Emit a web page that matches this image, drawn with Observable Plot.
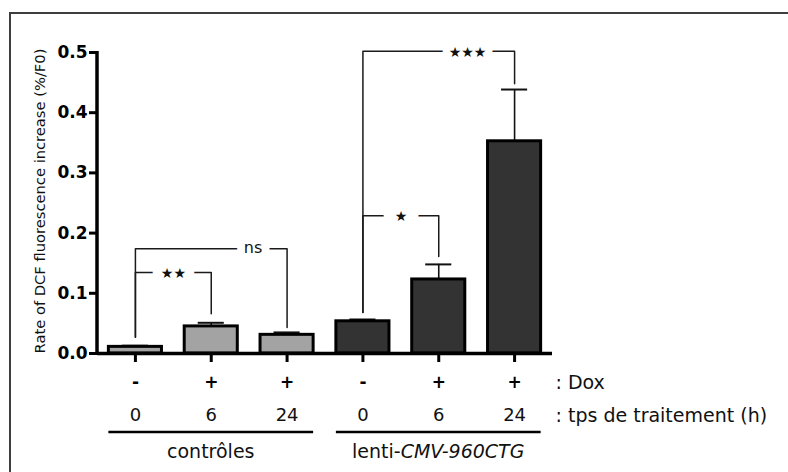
<!DOCTYPE html>
<html>
<head>
<meta charset="utf-8">
<script src="https://cdn.jsdelivr.net/npm/d3@7"></script>
<script src="https://cdn.jsdelivr.net/npm/@observablehq/plot@0.6"></script>
<style>
  html, body { margin: 0; padding: 0; background: #fff; }
  #wrap { position: relative; width: 788px; height: 472px; overflow: hidden; background: #fff; }
  #border { position: absolute; left: 9px; top: 12px; width: 820px; height: 500px; border: 2px solid #3e3e3e; box-sizing: border-box; }
  #chart { position: absolute; left: 0; top: 0; }
  #chart svg { font-family: "DejaVu Sans", sans-serif; }
  #chart g[aria-label="y-axis tick label"] text { font-size: 17px; font-weight: bold; fill: #000; }
</style>
</head>
<body>
<div id="wrap"><div id="border"></div><div id="chart"></div></div>
<script>
// ---- data ----
const categories = ["c0", "c6", "c24", "l0", "l6", "l24"];
const doxLabels = ["-", "+", "+", "-", "+", "+"];
const hourLabels = ["0", "6", "24", "0", "6", "24"];
const groupOf = ["contrôles", "contrôles", "contrôles", "lenti", "lenti", "lenti"];
const means = [0.011, 0.045, 0.031, 0.0535, 0.123, 0.3525];
const sems = [0.002, 0.006, 0.004, 0.003, 0.025, 0.086];
const yTicks = [0, 0.1, 0.2, 0.3, 0.4, 0.5];
const groupNames = ["contrôles", "lenti"];
const groupFirst = ["c0", "l0"];
const groupLast = ["c24", "l24"];
// significance brackets: from / to categories, foot heights, bar height
const brLabels = ["**", "ns", "*", "***"];
const brFrom = ["c0", "c0", "l0", "l0"];
const brTo = ["c6", "c24", "l6", "l24"];
const brFootFrom = [0.027, 0.027, 0.068, 0.068];
const brFootTo = [0.066, 0.043, 0.161, 0.448];
const brTop = [0.1345, 0.174, 0.229, 0.502];

const bars = categories.map((c, i) => ({cat: c, mean: means[i], sem: sems[i], group: groupOf[i], dox: doxLabels[i], h: hourLabels[i]}));
const brPts = [];
brLabels.forEach((l, i) => {
  brPts.push({z: l, x: brFrom[i], y: brFootFrom[i]});
  brPts.push({z: l, x: brFrom[i], y: brTop[i]});
  brPts.push({z: l, x: brTo[i], y: brTop[i]});
  brPts.push({z: l, x: brTo[i], y: brFootTo[i]});
});
const brText = brLabels.map((l, i) => ({label: l, from: brFrom[i], to: brTo[i], y: brTop[i]}));
const starText = (s) => s.replace(/\*/g, "★");

const halo = {stroke: "white", paintOrder: "stroke", strokeLinejoin: "round", fill: "#111", lineAnchor: "middle"};

const chart = Plot.plot({
  width: 788,
  height: 472,
  marginLeft: 97,
  marginRight: 236,
  marginTop: 52,
  marginBottom: 119,
  x: {domain: categories, paddingInner: 0.3, paddingOuter: 0.15, round: false, axis: null},
  y: {domain: [0, 0.5], axis: null},
  style: {background: "transparent", overflow: "visible", fontFamily: "DejaVu Sans"},
  marks: [
    // error bars (upper only)
    Plot.ruleX(bars, {x: "cat", y1: "mean", y2: d => d.mean + d.sem, stroke: "#111", strokeWidth: 1.6}),
    Plot.tickY(bars, {x: "cat", y: d => d.mean + d.sem, stroke: "#111", strokeWidth: 2, insetLeft: 13.5, insetRight: 13.5}),
    // bars
    Plot.barY(bars, {x: "cat", y: "mean", fill: d => d.group === "contrôles" ? "#a3a3a3" : "#333333", stroke: "#000", strokeWidth: 3}),
    // brackets
    Plot.line(brPts, {x: "x", y: "y", z: "z", stroke: "#1a1a1a", strokeWidth: 1.5, curve: "linear"}),
    Plot.text(brText.filter(d => d.label === "**"), {x: "from", y: "y", text: d => starText(d.label), dx: 38, dy: 1, fontSize: 14, strokeWidth: 18, ...halo}),
    Plot.text(brText.filter(d => d.label === "ns"), {x: "to", y: "y", text: "label", dx: -34, dy: -1, fontSize: 16, strokeWidth: 16, ...halo}),
    Plot.text(brText.filter(d => d.label === "*"), {x: "from", y: "y", text: d => starText(d.label), dx: 38, dy: 1, fontSize: 14, strokeWidth: 24, ...halo}),
    Plot.text(brText.filter(d => d.label === "***"), {x: "to", y: "y", text: d => starText(d.label), dx: -47, dy: 1, fontSize: 14, strokeWidth: 14, ...halo}),
    // axes
    Plot.ruleY([0], {stroke: "#000", strokeWidth: 3.5}),
    Plot.axisX({tickSize: 9, strokeWidth: 3, stroke: "#000", tickFormat: () => "", label: null}),
    Plot.axisY({ticks: yTicks, tickFormat: d3.format(".1f"), tickSize: 8, tickPadding: 2, strokeWidth: 3, stroke: "#000", fill: "#000", fontSize: 17, fontWeight: "bold", label: null}),
    (index, scales, values, dims) => {
      const y = scales.y;
      return d3.create("svg:line")
        .attr("x1", dims.marginLeft).attr("x2", dims.marginLeft)
        .attr("y1", y(0) + 1.75).attr("y2", y(0.5) - 1)
        .attr("stroke", "#000").attr("stroke-width", 3.5).node();
    },
    // category rows
    Plot.text(bars, {x: "cat", text: "dox", frameAnchor: "bottom", dy: 29, lineAnchor: "middle", fontSize: 17, fontWeight: "bold", fill: "#000"}),
    Plot.text(bars, {x: "cat", text: "h", frameAnchor: "bottom", dy: 62, lineAnchor: "middle", fontSize: 18, fill: "#111"}),
    Plot.text([": Dox"], {frameAnchor: "bottom-right", textAnchor: "start", dx: 3, dy: 29, lineAnchor: "middle", fontSize: 19, fill: "#111"}),
    Plot.text([": tps de traitement (h)"], {frameAnchor: "bottom-right", textAnchor: "start", dx: 3, dy: 62, lineAnchor: "middle", fontSize: 19, fill: "#111"}),
    // y label
    Plot.text(["Rate of DCF fluorescence increase (%/F0)"], {frameAnchor: "left", textAnchor: "middle", rotate: -90, dx: -57, dy: -2, lineAnchor: "middle", fontSize: 14.7, fill: "#111"}),
    // group lines and labels
    (index, scales, values, dims) => {
      const x = scales.x, y = scales.y;
      const bw = x.bandwidth ? x.bandwidth() : 0;
      const g = d3.create("svg:g");
      const base = y(0);
      groupNames.forEach((name, i) => {
        const x1 = x(groupFirst[i]), x2 = x(groupLast[i]) + bw;
        g.append("line").attr("x1", x1).attr("x2", x2).attr("y1", base + 79).attr("y2", base + 79)
          .attr("stroke", "#000").attr("stroke-width", 2.5);
        const t = g.append("text").attr("x", (x1 + x2) / 2).attr("y", base + 99).attr("dy", "0.32em")
          .attr("text-anchor", "middle").attr("font-size", 19).attr("fill", "#111");
        if (name === "lenti") {
          t.append("tspan").text("lenti-");
          t.append("tspan").attr("font-style", "italic").text("CMV-960CTG");
        } else {
          t.text(name);
        }
      });
      return g.node();
    }
  ]
});
document.getElementById("chart").appendChild(chart);
</script>
</body>
</html>
